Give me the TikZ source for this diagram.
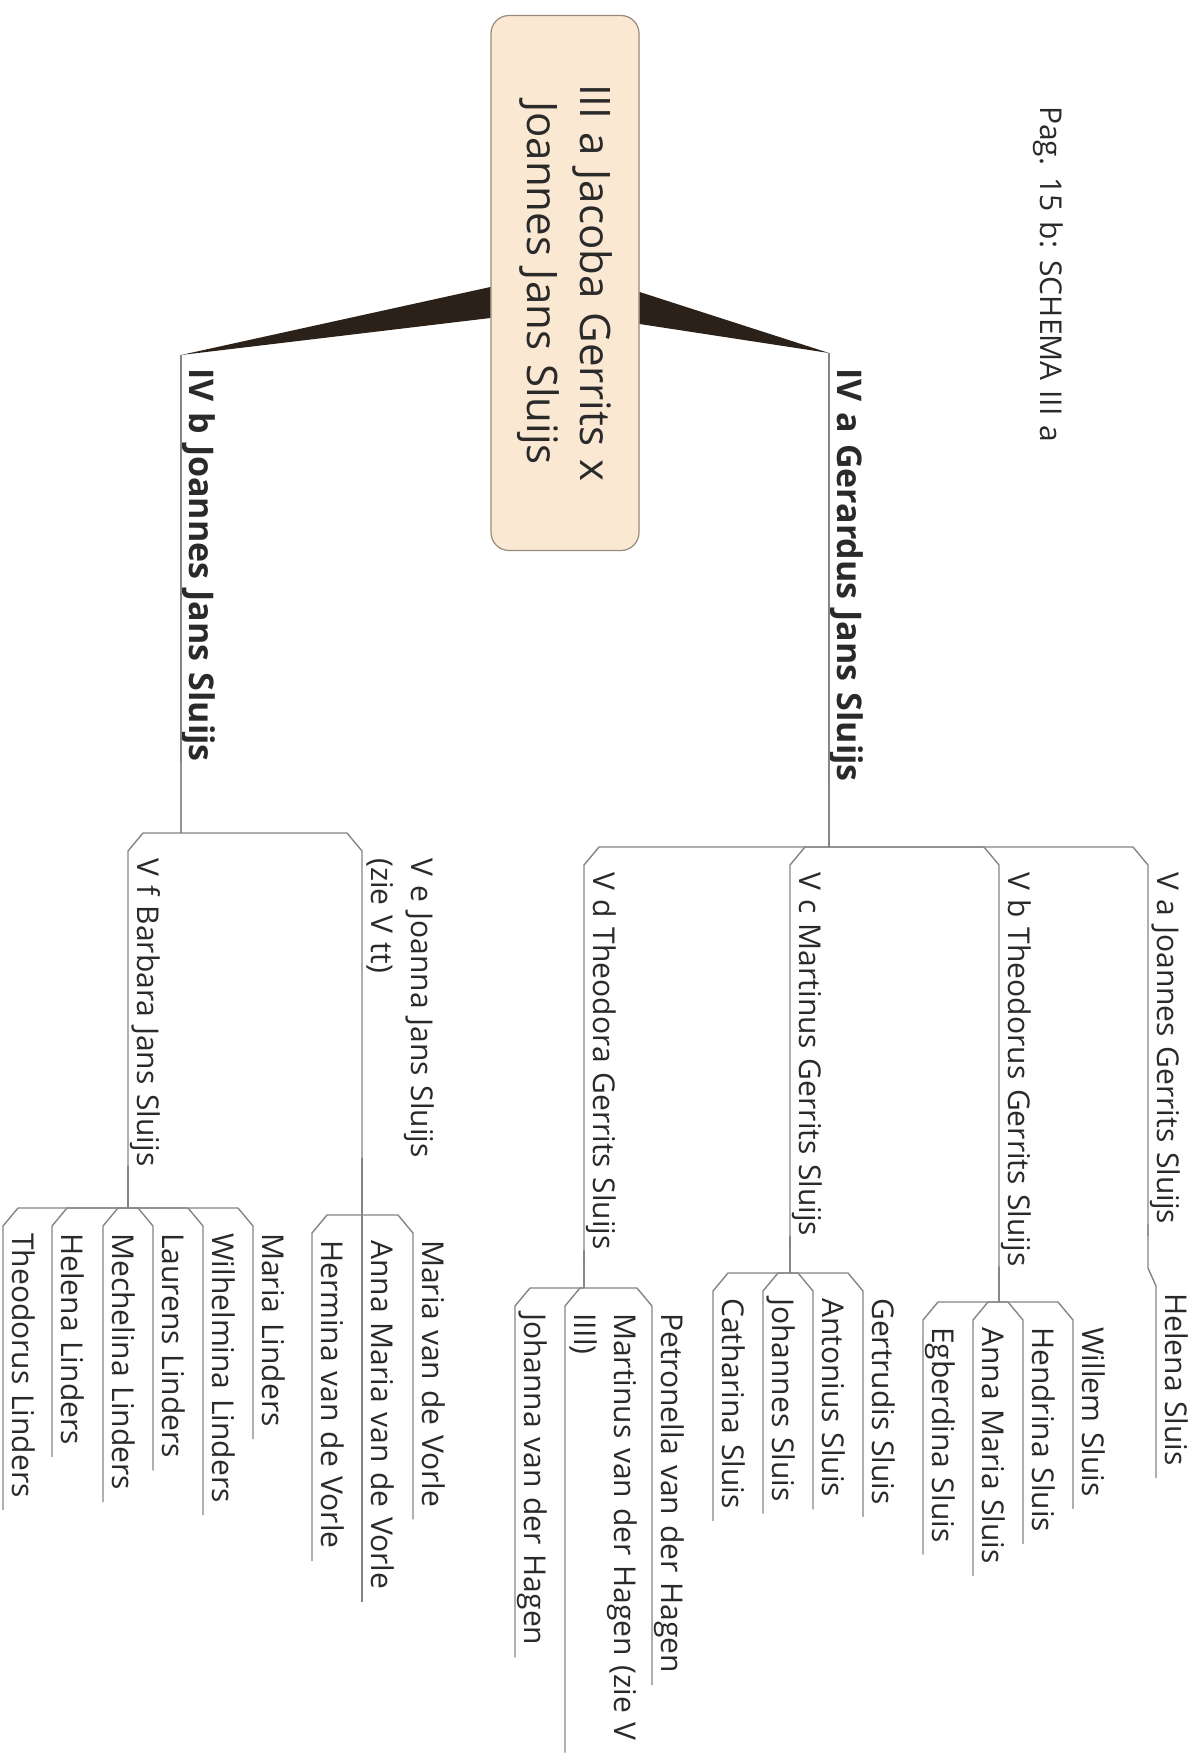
\documentclass[tikz,border=0pt]{standalone}
\usepackage{fontspec}
\setmainfont{Open Sans}[WordSpace=1.25]
\usetikzlibrary{calc}

\definecolor{ink}{HTML}{2A2A2A}
\definecolor{wire}{HTML}{858585}
\definecolor{peach}{HTML}{FBE8D3}
\definecolor{boxline}{HTML}{9A8A7A}
\definecolor{wedgebrown}{HTML}{2B2118}

\tikzset{
  leaf/.style={rotate=-90, anchor=south west, inner xsep=0pt, inner ysep=0pt,
    text depth=9pt, align=left, text=ink, font=\fontsize{30}{40}\selectfont},
  head/.style={leaf, text depth=8pt, font=\fontsize{34}{44}\selectfont\bfseries},
  rootbox/.style={rotate=-90, draw=boxline, fill=peach, line width=1.2pt,
    rounded corners=18pt, minimum width=535pt, minimum height=148pt,
    inner sep=0pt, align=center, text=ink, font=\fontsize{42}{53}\selectfont},
  link/.style={draw=wire, line width=1.4pt, line join=round},
  wedge/.style={fill=wedgebrown, draw=none}
}

% parent -> child connector (dx = chamfer offset)
\newcommand{\branch}[3]{\draw[link] (#1.south east) |- ($(#2.south west)+(#3,-25)$)
  -- ($(#2.south west)+(0,-7)$) -- ($(#2.south east)+(0,12)$);}

\begin{document}
\begin{tikzpicture}[x=1pt, y=-1pt]
  % Page
  \fill[white] (0,0) rectangle (1200,1756);
  \useasboundingbox (0,0) rectangle (1200,1756);

  % Title and root
  \node[leaf] (pag) at (1031,106) {Pag. 15 b: SCHEMA III a};
  \node[rootbox] (root) at (565,283) {III a Jacoba Gerrits x\\Joannes Jans Sluijs};

  % Generation IV
  \coordinate (tipa) at (829,353);
  \coordinate (tipb) at (181,355);
  \node[head] (iva) at (829,368) {IV a Gerardus Jans Sluijs};
  \node[head] (ivb) at (181,368) {IV b Joannes Jans Sluijs};
  \fill[wedge] ($(root.north)+(0,9)$) -- (tipa) -- ($(root.north)+(0,41)$) -- cycle;
  \fill[wedge] ($(root.south)+(0,4)$) -- (tipb) -- ($(root.south)+(0,35)$) -- cycle;
  \draw[link] (tipa) -- (iva.south east);
  \draw[link] (tipb) -- (ivb.south east);

  % Generation V
  \node[leaf] (va) at (1148,872) {V a Joannes Gerrits Sluijs};
  \node[leaf] (vb) at (999,872) {V b Theodorus Gerrits Sluijs};
  \node[leaf] (vc) at (790,872) {V c Martinus Gerrits Sluijs};
  \node[leaf] (vd) at (584,872) {V d Theodora Gerrits Sluijs};
  \node[leaf] (ve) at (362,858) {V e Joanna Jans Sluijs\\(zie V tt)};
  \node[leaf] (vf) at (128,858) {V f Barbara Jans Sluijs};

  % Children of V a and V b
  \node[leaf] (va1) at (1156,1293) {Helena Sluis};
  \node[leaf] (vb1) at (1073,1327) {Willem Sluis};
  \node[leaf] (vb2) at (1023,1327) {Hendrina Sluis};
  \node[leaf] (vb3) at (973,1327) {Anna Maria Sluis};
  \node[leaf] (vb4) at (923,1327) {Egberdina Sluis};

  % Children of V c and V d
  \node[leaf] (vc1) at (863,1298) {Gertrudis Sluis};
  \node[leaf] (vc2) at (813,1298) {Antonius Sluis};
  \node[leaf] (vc3) at (763,1298) {Johannes Sluis};
  \node[leaf] (vc4) at (713,1298) {Catharina Sluis};
  \node[leaf] (vd1) at (652,1313) {Petronella van der Hagen};
  \node[leaf] (vd2) at (565,1313) {Martinus van der Hagen (zie V\\IIIl)};
  \node[leaf] (vd3) at (515,1313) {Johanna van der Hagen};

  % Children of V e and V f
  \node[leaf] (ve1) at (413,1240) {Maria van de Vorle};
  \node[leaf] (ve2) at (362,1240) {Anna Maria van de Vorle};
  \node[leaf] (ve3) at (312,1240) {Hermina van de Vorle};
  \node[leaf] (vf1) at (253,1233) {Maria Linders};
  \node[leaf] (vf2) at (203,1233) {Wilhelmina Linders};
  \node[leaf] (vf3) at (153,1233) {Laurens Linders};
  \node[leaf] (vf4) at (103,1233) {Mechelina Linders};
  \node[leaf] (vf5) at (52,1233) {Helena Linders};
  \node[leaf] (vf6) at (3,1233) {Theodorus Linders};

  % Connectors
  \branch{iva}{va}{-15}
  \branch{iva}{vb}{-15}
  \branch{iva}{vc}{15}
  \branch{iva}{vd}{15}
  \branch{ivb}{ve}{-15}
  \branch{ivb}{vf}{15}
  \branch{va}{va1}{-8}
  \branch{vb}{vb1}{-15}
  \branch{vb}{vb2}{-15}
  \branch{vb}{vb3}{15}
  \branch{vb}{vb4}{15}
  \branch{vc}{vc1}{-15}
  \branch{vc}{vc2}{-15}
  \branch{vc}{vc3}{15}
  \branch{vc}{vc4}{15}
  \branch{vd}{vd1}{-15}
  \branch{vd}{vd2}{15}
  \branch{vd}{vd3}{15}
  \branch{ve}{ve1}{-15}
  \branch{ve}{ve2}{0}
  \branch{ve}{ve3}{15}
  \branch{vf}{vf1}{-15}
  \branch{vf}{vf2}{-15}
  \branch{vf}{vf3}{-15}
  \branch{vf}{vf4}{15}
  \branch{vf}{vf5}{15}
  \branch{vf}{vf6}{15}
\end{tikzpicture}
\end{document}
